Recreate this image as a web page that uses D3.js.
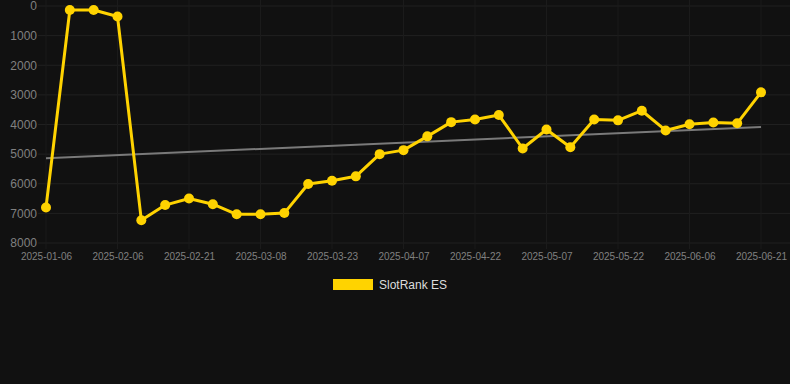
<!DOCTYPE html>
<html>
<head>
<meta charset="utf-8">
<script src="https://cdn.jsdelivr.net/npm/d3@7"></script>
<style>
  html, body { margin: 0; padding: 0; background: #111111; }
  svg { display: block; font-family: Arial, "Liberation Sans", sans-serif; }
</style>
</head>
<body>
<svg id="chart" width="790" height="384"></svg>
<script>
// dates (category axis) and rank values
const dates = [
  "2025-01-06", "2025-01-16", "2025-01-27", "2025-02-06", "2025-02-11", "2025-02-16",
  "2025-02-21", "2025-02-26", "2025-03-03", "2025-03-08", "2025-03-13", "2025-03-18",
  "2025-03-23", "2025-03-28", "2025-04-02", "2025-04-07", "2025-04-12", "2025-04-17",
  "2025-04-22", "2025-04-27", "2025-05-02", "2025-05-07", "2025-05-12", "2025-05-17",
  "2025-05-22", "2025-05-27", "2025-06-01", "2025-06-06", "2025-06-11", "2025-06-16",
  "2025-06-21"
];
const ranks = [
  6800, 135, 135, 355, 7230, 6720,
  6500, 6690, 7030, 7030, 6990, 6010,
  5900, 5750, 5000, 4865, 4400, 3920,
  3830, 3680, 4810, 4170, 4770, 3830,
  3860, 3535, 4200, 3990, 3930, 3960,
  2915
];
const yTicks = [0, 1000, 2000, 3000, 4000, 5000, 6000, 7000, 8000];
const seriesName = "SlotRank ES";

const svg = d3.select("#chart");
const gridColor = "#202020";
const vGridColor = "#1b1b1b";
const labelColor = "#808080";
const lineColor = "#ffd300";

const x = d3.scalePoint().domain(dates).range([46, 761]);
const y = d3.scaleLinear().domain([0, 8000]).range([6, 243]);

// horizontal grid
svg.append("g").selectAll("line").data(yTicks)
  .enter().append("line")
  .attr("x1", 38).attr("x2", 790)
  .attr("y1", d => y(d)).attr("y2", d => y(d))
  .attr("stroke", gridColor).attr("stroke-width", 1);

// vertical grid at shown labels (every 3rd date)
const shownDates = dates.filter((d, i) => i % 3 === 0);
svg.append("g").selectAll("line").data(shownDates)
  .enter().append("line")
  .attr("x1", d => x(d)).attr("x2", d => x(d))
  .attr("y1", 0).attr("y2", 249)
  .attr("stroke", vGridColor).attr("stroke-width", 1);

// y axis labels
const yAxis = svg.append("g")
  .attr("transform", "translate(38,0)")
  .call(d3.axisLeft(y).tickValues(yTicks).tickSize(0).tickPadding(1).tickFormat(d3.format("d")));
yAxis.select(".domain").remove();
yAxis.selectAll("text").attr("fill", labelColor).style("font-size", "12px");

// x axis labels
const xAxis = svg.append("g")
  .attr("transform", "translate(0,248)")
  .call(d3.axisBottom(x).tickValues(shownDates).tickSize(0).tickPadding(5));
xAxis.select(".domain").remove();
xAxis.selectAll("text").attr("fill", labelColor).style("font-size", "10px");

// linear trend (least squares on index)
const n = ranks.length;
const xs = d3.range(n);
const mx = d3.mean(xs), my = d3.mean(ranks);
const slope = d3.sum(xs, i => (i - mx) * (ranks[i] - my)) / d3.sum(xs, i => (i - mx) * (i - mx));
const intercept = my - slope * mx;
const trend = [0, n - 1].map(i => ({ date: dates[i], v: intercept + slope * i }));

svg.append("path")
  .datum(trend)
  .attr("d", d3.line().x(d => x(d.date)).y(d => y(d.v)))
  .attr("fill", "none")
  .attr("stroke", "#7a7a7a")
  .attr("stroke-width", 2);

// main series
const pts = dates.map((d, i) => ({ date: d, v: ranks[i] }));
svg.append("path")
  .datum(pts)
  .attr("d", d3.line().x(d => x(d.date)).y(d => y(d.v)))
  .attr("fill", "none")
  .attr("stroke", lineColor)
  .attr("stroke-width", 3)
  .attr("stroke-linejoin", "round");

svg.append("g").selectAll("circle").data(pts)
  .enter().append("circle")
  .attr("cx", d => x(d.date))
  .attr("cy", d => y(d.v))
  .attr("r", 5)
  .attr("fill", lineColor);

// legend
const legend = svg.append("g").attr("transform", "translate(333,279)");
legend.append("rect").attr("width", 40).attr("height", 11).attr("fill", lineColor);
legend.append("text")
  .attr("x", 46).attr("y", 10)
  .attr("fill", "#dddddd")
  .style("font-size", "12px")
  .text(seriesName);
</script>
</body>
</html>
